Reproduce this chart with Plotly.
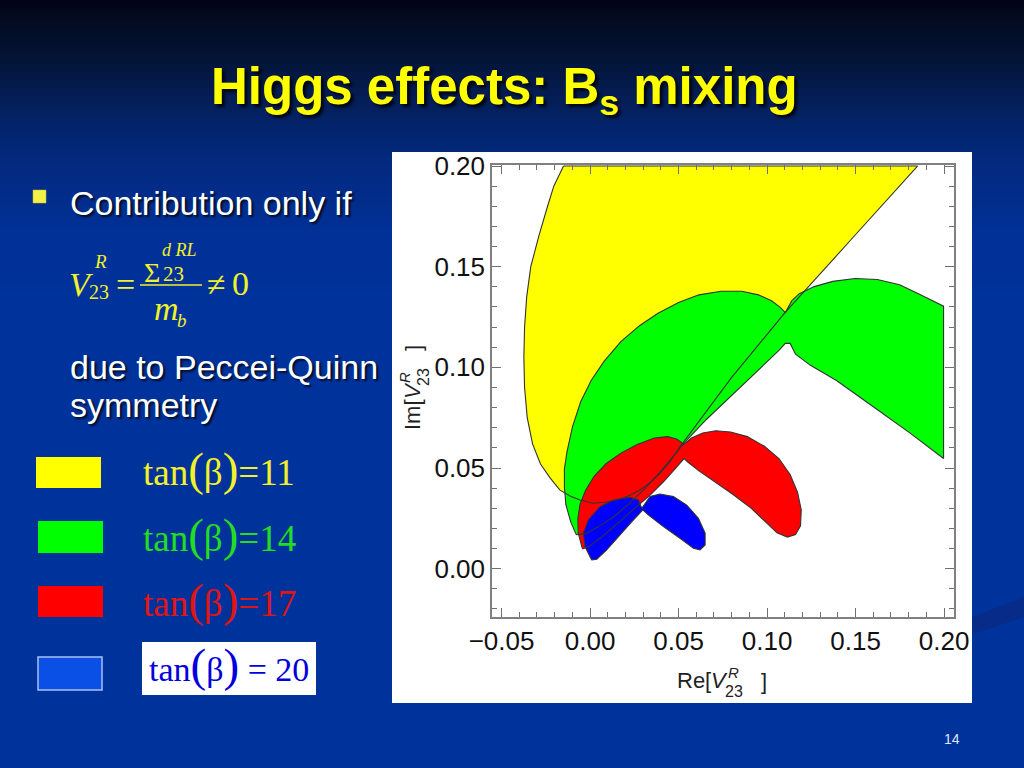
import plotly.graph_objects as go

# ---------------- data ----------------
series_names = ["tan(β)=11", "tan(β)=14", "tan(β)=17", "tan(β)=20"]
series_colors = ["#ffff00", "#00ff00", "#ff0000", "#0000ff"]

yellow_x = [-0.0150, -0.0205, -0.0240, -0.0290, -0.0335, -0.0358, -0.0370, -0.0374, -0.0370, -0.0355,
            -0.0325, -0.0280, -0.0225, -0.0170, -0.0110, -0.0057, 0.0019, 0.0085, 0.0151, 0.0220,
            0.0282, 0.0340, 0.0395, 0.0455, 0.0508, 0.0531, 0.0800, 0.1100, 0.1470, 0.1850]
yellow_y = [0.200, 0.190, 0.180, 0.165, 0.150, 0.135, 0.120, 0.105, 0.090, 0.075,
            0.062, 0.052, 0.045, 0.039, 0.0360, 0.0341, 0.0325, 0.0330, 0.0341, 0.0362,
            0.0391, 0.0428, 0.0474, 0.0535, 0.0606, 0.0632, 0.0950, 0.1270, 0.1630, 0.2000]

green_x = [-0.0078, -0.0109, -0.0137, -0.0145, -0.0145, -0.0130, -0.0099, -0.0053, 0.0006, 0.0080,
           0.0174, 0.0279, 0.0384, 0.0500, 0.0615, 0.0741, 0.0857, 0.0951, 0.1025, 0.1073,
           0.1103, 0.1140, 0.1182, 0.1266, 0.1371, 0.1497, 0.1623, 0.1749, 0.1875, 0.1997,
           0.1997, 0.1812, 0.1602, 0.1392, 0.1245, 0.1161, 0.1130, 0.1103, 0.1067, 0.0972,
           0.0867, 0.0762, 0.0657, 0.0552, 0.0468, 0.0384, 0.0300, 0.0216, 0.0132, 0.0048, -0.0025]
green_y = [0.0169, 0.0231, 0.0319, 0.0407, 0.0495, 0.0583, 0.0706, 0.0829, 0.0935, 0.1031,
           0.1128, 0.1207, 0.1269, 0.1322, 0.1360, 0.1378, 0.1378, 0.1360, 0.1331, 0.1299,
           0.1272, 0.1331, 0.1366, 0.1401, 0.1427, 0.1441, 0.1436, 0.1410, 0.1357, 0.1304,
           0.0547, 0.0671, 0.0803, 0.0935, 0.1010, 0.1065, 0.1119, 0.1119, 0.1084, 0.1005,
           0.0917, 0.0829, 0.0741, 0.0644, 0.0556, 0.0468, 0.0389, 0.0319, 0.0257, 0.0209, 0.0174]

red_x = [-0.0046, -0.0067, -0.0069, -0.0057, -0.0025, 0.0023, 0.0090, 0.0174, 0.0269, 0.0363,
         0.0437, 0.0489, 0.0531, 0.0573, 0.0636, 0.0710, 0.0794, 0.0888, 0.0983, 0.1067,
         0.1130, 0.1172, 0.1193, 0.1189, 0.1161, 0.1115, 0.1056, 0.0993, 0.0909, 0.0804,
         0.0699, 0.0615, 0.0552, 0.0531, 0.0479, 0.0416, 0.0342, 0.0258, 0.0164, 0.0069,
         -0.0004, -0.0040]
red_y = [0.0107, 0.0178, 0.0248, 0.0319, 0.0389, 0.0459, 0.0521, 0.0574, 0.0618, 0.0649,
         0.0656, 0.0644, 0.0618, 0.0649, 0.0674, 0.0685, 0.0679, 0.0656, 0.0609, 0.0547,
         0.0468, 0.0380, 0.0292, 0.0213, 0.0169, 0.0157, 0.0178, 0.0231, 0.0301, 0.0371,
         0.0433, 0.0486, 0.0530, 0.0547, 0.0495, 0.0433, 0.0368, 0.0301, 0.0231, 0.0160,
         0.0111, 0.0099]

blue_x = [0.0009, -0.0028, -0.0038, -0.0010, 0.0056, 0.0132, 0.0226, 0.0273, 0.0292, 0.0339,
          0.0395, 0.0471, 0.0546, 0.0612, 0.0650, 0.0650, 0.0621, 0.0584, 0.0508, 0.0414,
          0.0329, 0.0298, 0.0235, 0.0160, 0.0094, 0.0038]
blue_y = [0.0043, 0.0109, 0.0176, 0.0242, 0.0308, 0.0341, 0.0355, 0.0341, 0.0300, 0.0358,
          0.0371, 0.0358, 0.0316, 0.0250, 0.0176, 0.0118, 0.0093, 0.0101, 0.0151, 0.0209,
          0.0267, 0.0292, 0.0233, 0.0159, 0.0093, 0.0047]

x_tick_vals = [-0.05, 0.00, 0.05, 0.10, 0.15, 0.20]
y_tick_vals = [0.00, 0.05, 0.10, 0.15, 0.20]
legend_values = ["11", "14", "17", "20"]
legend_text_colors = ["#f2f22a", "#22dd22", "#e01515", "#0000dd"]
legend_box_colors = ["#ffff00", "#00ff00", "#ff0000", "#0a50e6"]

# ---------------- helpers (pixel -> paper) ----------------
W, H = 1024, 768


def X(px):
    return px / W


def Y(py):
    return 1 - py / H


fig = go.Figure()

regions = [(yellow_x, yellow_y), (green_x, green_y), (red_x, red_y), (blue_x, blue_y)]
for (xs, ys), col, name in zip(regions, series_colors, series_names):
    fig.add_trace(go.Scatter(x=xs, y=ys, mode="lines", fill="toself", fillcolor=col,
                             line=dict(width=0, color=col), name=name,
                             hoverinfo="skip", showlegend=False))
for (xs, ys), name in zip(regions, series_names):
    fig.add_trace(go.Scatter(x=xs + [xs[0]], y=ys + [ys[0]], mode="lines",
                             line=dict(width=1.1, color="#333333"), name=name + " boundary",
                             hoverinfo="skip", showlegend=False))

shapes = []


def lerp(a, b, t):
    return tuple(int(round(a[i] + (b[i] - a[i]) * t)) for i in range(3))


stops = [(0, (2, 2, 22)), (15, (3, 10, 30)), (60, (3, 20, 55)), (100, (4, 30, 88)),
         (150, (3, 40, 122)), (230, (1, 48, 150)), (300, (0, 50, 155))]
step = 4
for y0 in range(0, 300, step):
    yc = y0 + step / 2
    for (a, ca), (b, cb) in zip(stops[:-1], stops[1:]):
        if a <= yc <= b:
            c = lerp(ca, cb, (yc - a) / (b - a))
            break
    shapes.append(dict(type="rect", xref="paper", yref="paper", x0=0, x1=1,
                       y0=Y(y0 + step + 0.5), y1=Y(y0), fillcolor="rgb(%d,%d,%d)" % c,
                       line=dict(width=0), layer="below"))

# swoosh bottom right
shapes.append(dict(type="path", xref="paper", yref="paper", layer="below",
                   path="M %f %f L %f %f L %f %f L %f %f Z" % (X(940), Y(630), X(1024), Y(597), X(1024), Y(617), X(940), Y(645)),
                   fillcolor="rgba(10,40,130,0.7)", line=dict(width=0)))
# white panel for plot
shapes.append(dict(type="rect", xref="paper", yref="paper", x0=X(392), x1=X(972), y0=Y(703), y1=Y(152),
                   fillcolor="white", line=dict(width=0), layer="below"))
# bullet
shapes.append(dict(type="rect", xref="paper", yref="paper", x0=X(33), x1=X(46), y0=Y(203), y1=Y(190),
                   fillcolor="#f4f24a", line=dict(width=0.5, color="#c8c020")))
# fraction bar
shapes.append(dict(type="line", xref="paper", yref="paper", x0=X(140), x1=X(202), y0=Y(285), y1=Y(285),
                   line=dict(width=1.5, color="#f2f22a")))
# legend boxes
box_rows = [(36, 101, 457, 488), (38, 103, 521, 553), (38, 103, 586, 617), (38, 102, 657, 690)]
for (x0, x1, y0, y1), col in zip(box_rows, legend_box_colors):
    line = dict(width=1.5, color="#a8c0f0") if col == "#0a50e6" else dict(width=0)
    shapes.append(dict(type="rect", xref="paper", yref="paper", x0=X(x0), x1=X(x1), y0=Y(y1), y1=Y(y0),
                       fillcolor=col, line=line))
# white box behind last legend text
shapes.append(dict(type="rect", xref="paper", yref="paper", x0=X(142), x1=X(316), y0=Y(695), y1=Y(642),
                   fillcolor="white", line=dict(width=0)))

ann = []
SANS = "Liberation Sans, Arial, sans-serif"
SERIF = "Liberation Serif, Times New Roman, serif"
SHADOW = "2px 2px 2px rgba(0,0,0,0.75)"


def A(text, x, y, size, color, family=SANS, xanchor="center", yanchor="middle", angle=0, **fkw):
    ann.append(dict(text=text, x=X(x), y=Y(y), xref="paper", yref="paper", showarrow=False,
                    xanchor=xanchor, yanchor=yanchor, textangle=angle,
                    font=dict(size=size, color=color, family=family, **fkw)))


# title
A("Higgs effects: B<sub>s</sub> mixing", 504, 90, 51, "#ffff00",
  family=SANS, weight="bold", shadow="3px 3px 3px rgba(0,0,0,0.8)")

# left text
A("Contribution only if", 68, 203, 34, "white", xanchor="left", shadow=SHADOW)
A("due to Peccei-Quinn", 68, 367, 34, "white", xanchor="left", shadow=SHADOW)
A("symmetry", 68, 405, 34, "white", xanchor="left", shadow=SHADOW)

# formula
FY = "#f2f22a"
A("V", 81.5, 284.5, 34, FY, SERIF, style="italic")
A("R", 100, 261, 19, FY, SERIF, style="italic")
A("23", 99, 292, 20, FY, SERIF)
A("=", 125, 284, 34, FY, SERIF)
A("Σ", 152, 272, 28, FY, SERIF)
A("d RL", 179, 250, 18, FY, SERIF, style="italic")
A("23", 173, 274, 21, FY, SERIF)
A("m", 166, 308.5, 34, FY, SERIF, style="italic")
A("b", 182, 320, 19, FY, SERIF, style="italic")
A("≠", 216, 284, 34, FY, SERIF)
A("0", 240.5, 283.5, 34, FY, SERIF)

# legend texts
rows_y = [469, 535, 600, 665]
for i, (v, col, ry) in enumerate(zip(legend_values, legend_text_colors, rows_y)):
    P = "<span style='font-size:47px'>%s</span>"
    if i < 3:
        txt = "tan" + P % "(" + "β" + P % ")" + "=" + v
        A(txt, 141, ry, 37, col, SERIF, xanchor="left")
    else:
        txt = "tan" + P % "(" + "β" + P % ")" + " = " + v
        A(txt, 147, ry, 34, col, SERIF, xanchor="left")

# page number
A("14", 952, 739, 14, "#dfe6ff")

# axis titles (x)
AX = "#222222"
A("Re[", 694, 680, 22, AX)
A("V", 719, 680, 22, AX, style="italic")
A("R", 733, 672, 15, AX, style="italic")
A("23", 734, 691, 16, AX)
A("]", 764, 681, 22, AX)
# axis titles (y, rotated)
A("Im[", 412, 415, 22, AX, angle=-90)
A("V", 412, 391, 22, AX, angle=-90, style="italic")
A("R", 404, 378, 15, AX, angle=-90, style="italic")
A("23", 423, 377, 16, AX, angle=-90)
A("]", 413, 348, 22, AX, angle=-90)

axis_common = dict(showgrid=False, zeroline=False, showline=True, linecolor="#808080", linewidth=1.5,
                   mirror="ticks", ticks="inside", ticklen=9, tickwidth=1.2, tickcolor="#707070",
                   tickformat=".2f", tickfont=dict(size=26, color="#111111", family=SANS),
                   automargin=False,
                   minor=dict(ticks="inside", ticklen=5, tickwidth=1, tickcolor="#707070", dtick=0.01, tick0=0))

fig.update_layout(
    template="none",
    width=W, height=H, autosize=False,
    margin=dict(l=0, r=0, t=0, b=0, pad=0, autoexpand=False),
    paper_bgcolor="rgb(0,50,155)", plot_bgcolor="white",
    xaxis=dict(range=[-0.0554, 0.2056], domain=[X(492), X(954)], tickmode="array",
               tickvals=x_tick_vals, **axis_common),
    yaxis=dict(range=[-0.024, 0.2005], domain=[Y(617), Y(165)], tickmode="array",
               tickvals=y_tick_vals, **axis_common),
    shapes=shapes, annotations=ann, showlegend=False,
)

post = ("document.documentElement.style.margin='0';document.documentElement.style.overflow='hidden';"
        "document.body.style.margin='0';document.body.style.padding='0';document.body.style.overflow='hidden';")
fig.write_html("out.html", post_script=post, config={"displayModeBar": False, "responsive": False})
